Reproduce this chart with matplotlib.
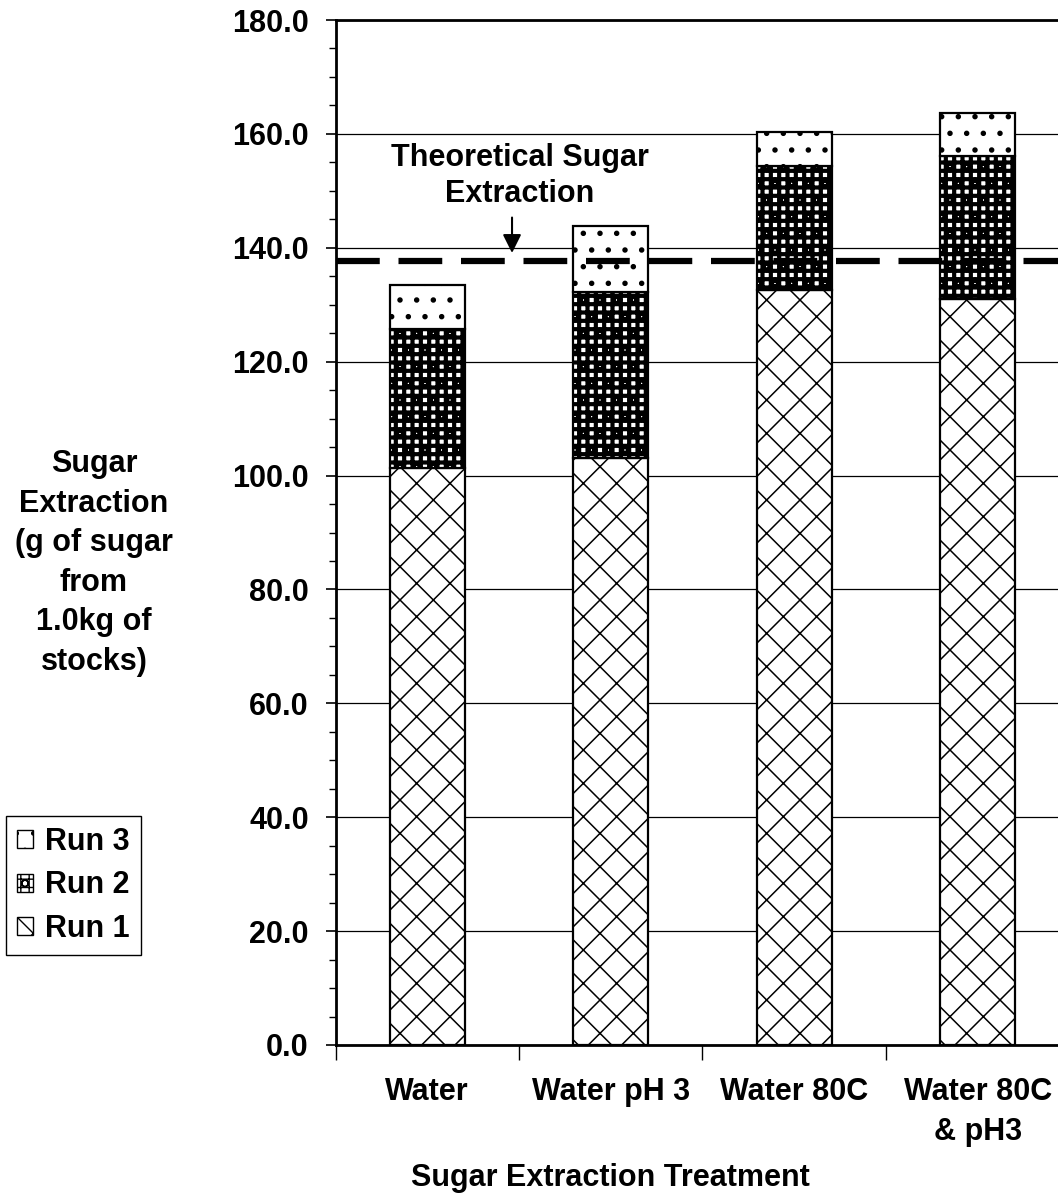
import numpy as np
import matplotlib
matplotlib.use('Agg')
import matplotlib.pyplot as plt
from matplotlib.patches import Patch

plt.rcParams['font.family'] = ['Liberation Sans', 'DejaVu Sans']
plt.rcParams['font.weight'] = 'bold'
plt.rcParams['font.size'] = 22

# data
treatments = ['Water', 'Water pH 3', 'Water 80C', 'Water 80C\n& pH3']
run1 = [101.3, 103.0, 132.5, 131.0]
run2 = [24.4, 29.2, 21.9, 25.2]
run3 = [7.8, 11.7, 5.9, 7.4]
theoretical = 137.6
yticks = [0, 20, 40, 60, 80, 100, 120, 140, 160, 180]

W, H = 1058, 1195
fig = plt.figure(figsize=(W / 100, H / 100), dpi=100)
ax = fig.add_axes([335.5 / W, 1 - 1045 / H, 734 / W, 1025 / H])

x = np.arange(len(treatments))
bw = 0.41


def hatched_bars(bottom, vals, hatch, hlw):
    bars = ax.bar(x, vals, bw, bottom=bottom, color='white', edgecolor='black',
                  linewidth=1.6, hatch=hatch, zorder=2)
    for b in bars:
        if hasattr(b, 'set_hatch_linewidth'):
            b.set_hatch_linewidth(hlw)
    return bars


bot2 = np.array(run1)
bot3 = bot2 + np.array(run2)
with plt.rc_context({'hatch.linewidth': 1.1}):
    hatched_bars(0, run1, 'x', 1.1)
with plt.rc_context({'hatch.linewidth': 3.0}):
    hatched_bars(bot2, run2, '++o', 3.0)
with plt.rc_context({'hatch.linewidth': 1.5}):
    hatched_bars(bot3, run3, '.', 1.5)

# theoretical line
ax.axhline(theoretical, color='black', lw=4.5, dashes=(7, 3), zorder=4, clip_on=False)
ax.annotate('', xy=(0.462, 138.6), xytext=(0.462, 145.8),
            arrowprops=dict(arrowstyle='-|>', color='black', lw=1.5, mutation_scale=28))
ax.text(0.505, 152.6, 'Theoretical Sugar\nExtraction', ha='center', va='center',
        fontsize=22, fontweight='bold', linespacing=1.3)

ax.set_xlim(-0.5, len(treatments) - 0.5)
ax.set_ylim(0, 180)
ax.set_yticks(yticks)
ax.set_yticklabels(['%.1f' % v for v in yticks])
ax.set_yticks(np.arange(0, 181, 5), minor=True)
ax.grid(axis='y', color='black', lw=0.9, zorder=0)
ax.set_axisbelow(True)

ax.set_xticks(x)
ax.set_xticklabels(treatments, linespacing=1.45)
ax.set_xticks(np.arange(len(treatments) + 1) - 0.5, minor=True)
ax.tick_params(axis='x', which='major', length=0, pad=23)
ax.tick_params(axis='x', which='minor', length=11, width=1)
ax.tick_params(axis='y', which='major', length=7.2, width=1.2, pad=12)
ax.tick_params(axis='y', which='minor', length=5, width=1)

for s in ['left', 'bottom', 'top']:
    ax.spines[s].set_linewidth(2)
ax.spines['right'].set_visible(False)

fig.text(94 / W, 1 - 563 / H, 'Sugar\nExtraction\n(g of sugar\nfrom\n1.0kg of\nstocks)',
         ha='center', va='center', fontsize=22, fontweight='bold', linespacing=1.42)
fig.text(610 / W, 1 - 1178 / H, 'Sugar Extraction Treatment', ha='center', va='center',
         fontsize=22, fontweight='bold')

handles = [Patch(facecolor='white', edgecolor='black', hatch='.', label='Run 3'),
           Patch(facecolor='white', edgecolor='black', hatch='++o', label='Run 2'),
           Patch(facecolor='white', edgecolor='black', hatch='x', label='Run 1')]
leg = fig.legend(handles=handles, loc='upper left', bbox_to_anchor=(6 / W, 1 - 816 / H),
                 fancybox=False, edgecolor='black', framealpha=1, handlelength=0.52,
                 handleheight=0.52, handletextpad=0.42, borderpad=0.35, labelspacing=0.45,
                 borderaxespad=0, prop={'weight': 'bold', 'size': 22})
leg.get_frame().set_linewidth(1)

fig.savefig('out.png', dpi=100)
